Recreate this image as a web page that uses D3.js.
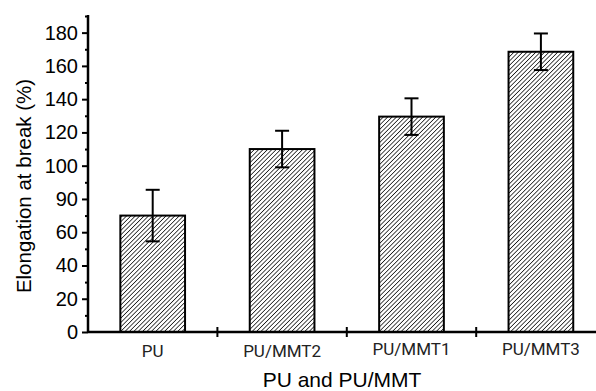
<!DOCTYPE html>
<html>
<head>
<meta charset="utf-8">
<script src="https://cdn.jsdelivr.net/npm/d3@7"></script>
<style>
  body { margin: 0; background: #fff; }
  svg { display: block; }
</style>
</head>
<body>
<div id="chart"></div>
<script>
// data
const categories = ["PU", "PU/MMT2", "PU/MMT1", "PU/MMT3"];
const elongation = [70, 110, 129.5, 168.5];
const errors = [15.5, 11, 11, 11];
const yTickValues = [0, 20, 40, 60, 80, 100, 120, 140, 160, 180];
const yTickLabels = ["0", "20", "40", "60", "90", "100", "120", "140", "160", "180"];

const W = 596, H = 391;
const margin = {left: 88, bottom: 332, top: 16};

const svg = d3.select("#chart").append("svg")
    .attr("width", W)
    .attr("height", H);

// hatch pattern for bars
const defs = svg.append("defs");
defs.append("pattern")
    .attr("id", "hatch")
    .attr("patternUnits", "userSpaceOnUse")
    .attr("width", 3.1)
    .attr("height", 3.1)
    .attr("patternTransform", "rotate(45)")
    .append("line")
    .attr("x1", 0).attr("y1", 0)
    .attr("x2", 0).attr("y2", 3.1)
    .attr("stroke", "#000")
    .attr("stroke-width", 1.4);

let y = d3.scaleLinear()
    .domain([0, 190])
    .range([margin.bottom, margin.top]);

let x = d3.scaleBand()
    .domain(categories)
    .range([margin.left, margin.left + 4 * 129.4])
    .paddingInner(0.5)
    .paddingOuter(0.25);

// bars
svg.selectAll(".bar")
    .data(categories)
    .enter().append("rect")
    .attr("class", "bar")
    .attr("x", d => x(d))
    .attr("y", (d, i) => y(elongation[i]))
    .attr("width", x.bandwidth())
    .attr("height", (d, i) => y(0) - y(elongation[i]))
    .attr("fill", "url(#hatch)")
    .attr("stroke", "#000")
    .attr("stroke-width", 2);

// error bars
let errG = svg.selectAll(".err")
    .data(categories)
    .enter().append("g")
    .attr("class", "err")
    .attr("stroke", "#000")
    .attr("stroke-width", 2);

errG.append("line")
    .attr("x1", d => x(d) + x.bandwidth() / 2)
    .attr("x2", d => x(d) + x.bandwidth() / 2)
    .attr("y1", (d, i) => y(elongation[i] + errors[i]))
    .attr("y2", (d, i) => y(elongation[i] - errors[i]));

[1, -1].forEach(function (s) {
    errG.append("line")
        .attr("x1", d => x(d) + x.bandwidth() / 2 - 7)
        .attr("x2", d => x(d) + x.bandwidth() / 2 + 7)
        .attr("y1", (d, i) => y(elongation[i] + s * errors[i]))
        .attr("y2", (d, i) => y(elongation[i] + s * errors[i]));
});

// y axis
let yAxis = d3.axisLeft(y)
    .tickValues(yTickValues)
    .tickFormat((d, i) => yTickLabels[i])
    .tickSize(6)
    .tickPadding(4);

let yG = svg.append("g")
    .attr("transform", "translate(" + margin.left + ",0)")
    .call(yAxis);

yG.select(".domain").remove();
yG.selectAll(".tick line").attr("stroke-width", 2);
yG.selectAll("text")
    .style("font-family", "Liberation Sans, Arial, sans-serif")
    .style("font-size", "20px")
    .attr("fill", "#000");

// minor ticks
let yMinor = d3.axisLeft(y)
    .tickValues(d3.range(10, 200, 20))
    .tickFormat("")
    .tickSize(3);
let yMinorG = svg.append("g")
    .attr("transform", "translate(" + margin.left + ",0)")
    .call(yMinor);
yMinorG.select(".domain").remove();
yMinorG.selectAll(".tick line").attr("stroke-width", 2);

svg.append("line")
    .attr("x1", margin.left).attr("x2", margin.left)
    .attr("y1", y(190) - 1).attr("y2", margin.bottom + 1)
    .attr("stroke", "#000")
    .attr("stroke-width", 2.5);

// x axis
svg.append("line")
    .attr("x1", margin.left).attr("x2", W)
    .attr("y1", margin.bottom).attr("y2", margin.bottom)
    .attr("stroke", "#000")
    .attr("stroke-width", 2.5);

// separator ticks between categories
svg.selectAll(".sep")
    .data(categories.slice(1))
    .enter().append("line")
    .attr("x1", d => x(d) - x.step() * x.paddingInner() / 2)
    .attr("x2", d => x(d) - x.step() * x.paddingInner() / 2)
    .attr("y1", margin.bottom - 5)
    .attr("y2", margin.bottom + 5)
    .attr("stroke", "#000")
    .attr("stroke-width", 2);

svg.selectAll(".xlab")
    .data(categories)
    .enter().append("text")
    .attr("x", d => x(d) + x.bandwidth() / 2)
    .attr("y", (d, i) => i < 2 ? 357 : 355)
    .attr("text-anchor", "middle")
    .style("font-family", "Roboto, sans-serif")
    .style("font-size", "17px")
    .attr("fill", "#222")
    .text(d => d);

// axis titles
svg.append("text")
    .attr("x", 342)
    .attr("y", 387)
    .attr("text-anchor", "middle")
    .style("font-family", "Liberation Sans, Arial, sans-serif")
    .style("font-size", "21px")
    .text("PU and PU/MMT");

svg.append("text")
    .attr("transform", "translate(31,186) rotate(-90)")
    .attr("text-anchor", "middle")
    .style("font-family", "Liberation Sans, Arial, sans-serif")
    .style("font-size", "20.5px")
    .text("Elongation at break (%)");
</script>
</body>
</html>
